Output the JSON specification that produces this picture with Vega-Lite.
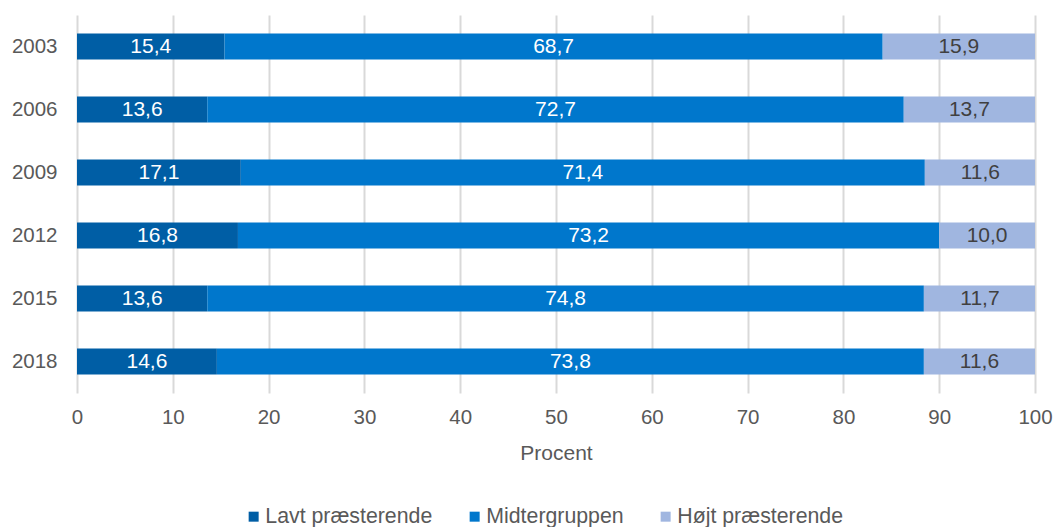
{
  "$schema": "https://vega.github.io/schema/vega-lite/v6.json",
  "width": 958,
  "height": 378,
  "autosize": {"type": "none"},
  "padding": {"left": 77, "top": 15, "right": 18, "bottom": 134},
  "background": "white",
  "config": {
    "view": {"stroke": null},
    "font": "Liberation Sans",
    "locale": {"number": {"decimal": ",", "thousands": ".", "grouping": [3], "currency": ["", " kr."]}}
  },
  "data": {
    "values": [
      {"year": "2003", "gruppe": "Lavt præsterende", "value": 15.4},
      {"year": "2003", "gruppe": "Midtergruppen", "value": 68.7},
      {"year": "2003", "gruppe": "Højt præsterende", "value": 15.9},
      {"year": "2006", "gruppe": "Lavt præsterende", "value": 13.6},
      {"year": "2006", "gruppe": "Midtergruppen", "value": 72.7},
      {"year": "2006", "gruppe": "Højt præsterende", "value": 13.7},
      {"year": "2009", "gruppe": "Lavt præsterende", "value": 17.1},
      {"year": "2009", "gruppe": "Midtergruppen", "value": 71.4},
      {"year": "2009", "gruppe": "Højt præsterende", "value": 11.6},
      {"year": "2012", "gruppe": "Lavt præsterende", "value": 16.8},
      {"year": "2012", "gruppe": "Midtergruppen", "value": 73.2},
      {"year": "2012", "gruppe": "Højt præsterende", "value": 10.0},
      {"year": "2015", "gruppe": "Lavt præsterende", "value": 13.6},
      {"year": "2015", "gruppe": "Midtergruppen", "value": 74.8},
      {"year": "2015", "gruppe": "Højt præsterende", "value": 11.7},
      {"year": "2018", "gruppe": "Lavt præsterende", "value": 14.6},
      {"year": "2018", "gruppe": "Midtergruppen", "value": 73.8},
      {"year": "2018", "gruppe": "Højt præsterende", "value": 11.6}
    ]
  },
  "transform": [
    {"calculate": "indexof(['Lavt præsterende','Midtergruppen','Højt præsterende'], datum.gruppe)", "as": "ord"},
    {"stack": "value", "groupby": ["year"], "sort": [{"field": "ord", "order": "ascending"}], "as": ["v0", "v1"]},
    {"calculate": "(datum.v0 + datum.v1) / 2", "as": "mid"}
  ],
  "encoding": {
    "y": {
      "field": "year",
      "type": "nominal",
      "sort": "ascending",
      "scale": {"paddingInner": 0.59, "paddingOuter": 0.295},
      "axis": {
        "title": null,
        "domain": false,
        "ticks": false,
        "labelPadding": 20,
        "labelFontSize": 20.5,
        "labelColor": "#595959",
        "grid": false
      }
    }
  },
  "layer": [
    {
      "mark": {"type": "bar", "clip": true},
      "encoding": {
        "x": {
          "field": "v0",
          "type": "quantitative",
          "scale": {"domain": [0, 100], "nice": false},
          "axis": {
            "title": "Procent",
            "values": [0, 10, 20, 30, 40, 50, 60, 70, 80, 90, 100],
            "domain": false,
            "ticks": false,
            "grid": true,
            "gridColor": "#d9d9d9",
            "gridWidth": 2,
            "labelPadding": 14,
            "labelFontSize": 20.5,
            "labelColor": "#595959",
            "labelFlush": false,
            "titleFontSize": 21,
            "titleFontWeight": "normal",
            "titleColor": "#595959",
            "titleBaseline": "alphabetic",
            "titleY": 66
          }
        },
        "x2": {"field": "v1"},
        "color": {
          "field": "gruppe",
          "type": "nominal",
          "scale": {
            "domain": ["Lavt præsterende", "Midtergruppen", "Højt præsterende"],
            "range": ["#005EA5", "#0077CC", "#A0B6E0"]
          },
          "legend": {
            "title": null,
            "orient": "none",
            "direction": "horizontal",
            "legendX": 166,
            "legendY": 491,
            "symbolType": "square",
            "symbolSize": 100,
            "symbolStrokeWidth": 0,
            "labelFontSize": 21.3,
            "labelLimit": 400,
            "labelColor": "#595959",
            "labelOffset": 1,
            "columnPadding": 31
          }
        }
      }
    },
    {
      "mark": {"type": "text", "fontSize": 21, "align": "center", "baseline": "middle"},
      "encoding": {
        "x": {"field": "mid", "type": "quantitative"},
        "text": {"field": "value", "type": "quantitative", "format": ".1f"},
        "color": {
          "condition": {"test": "datum.gruppe === 'Højt præsterende'", "value": "#404040"},
          "value": "#ffffff"
        }
      }
    }
  ]
}
